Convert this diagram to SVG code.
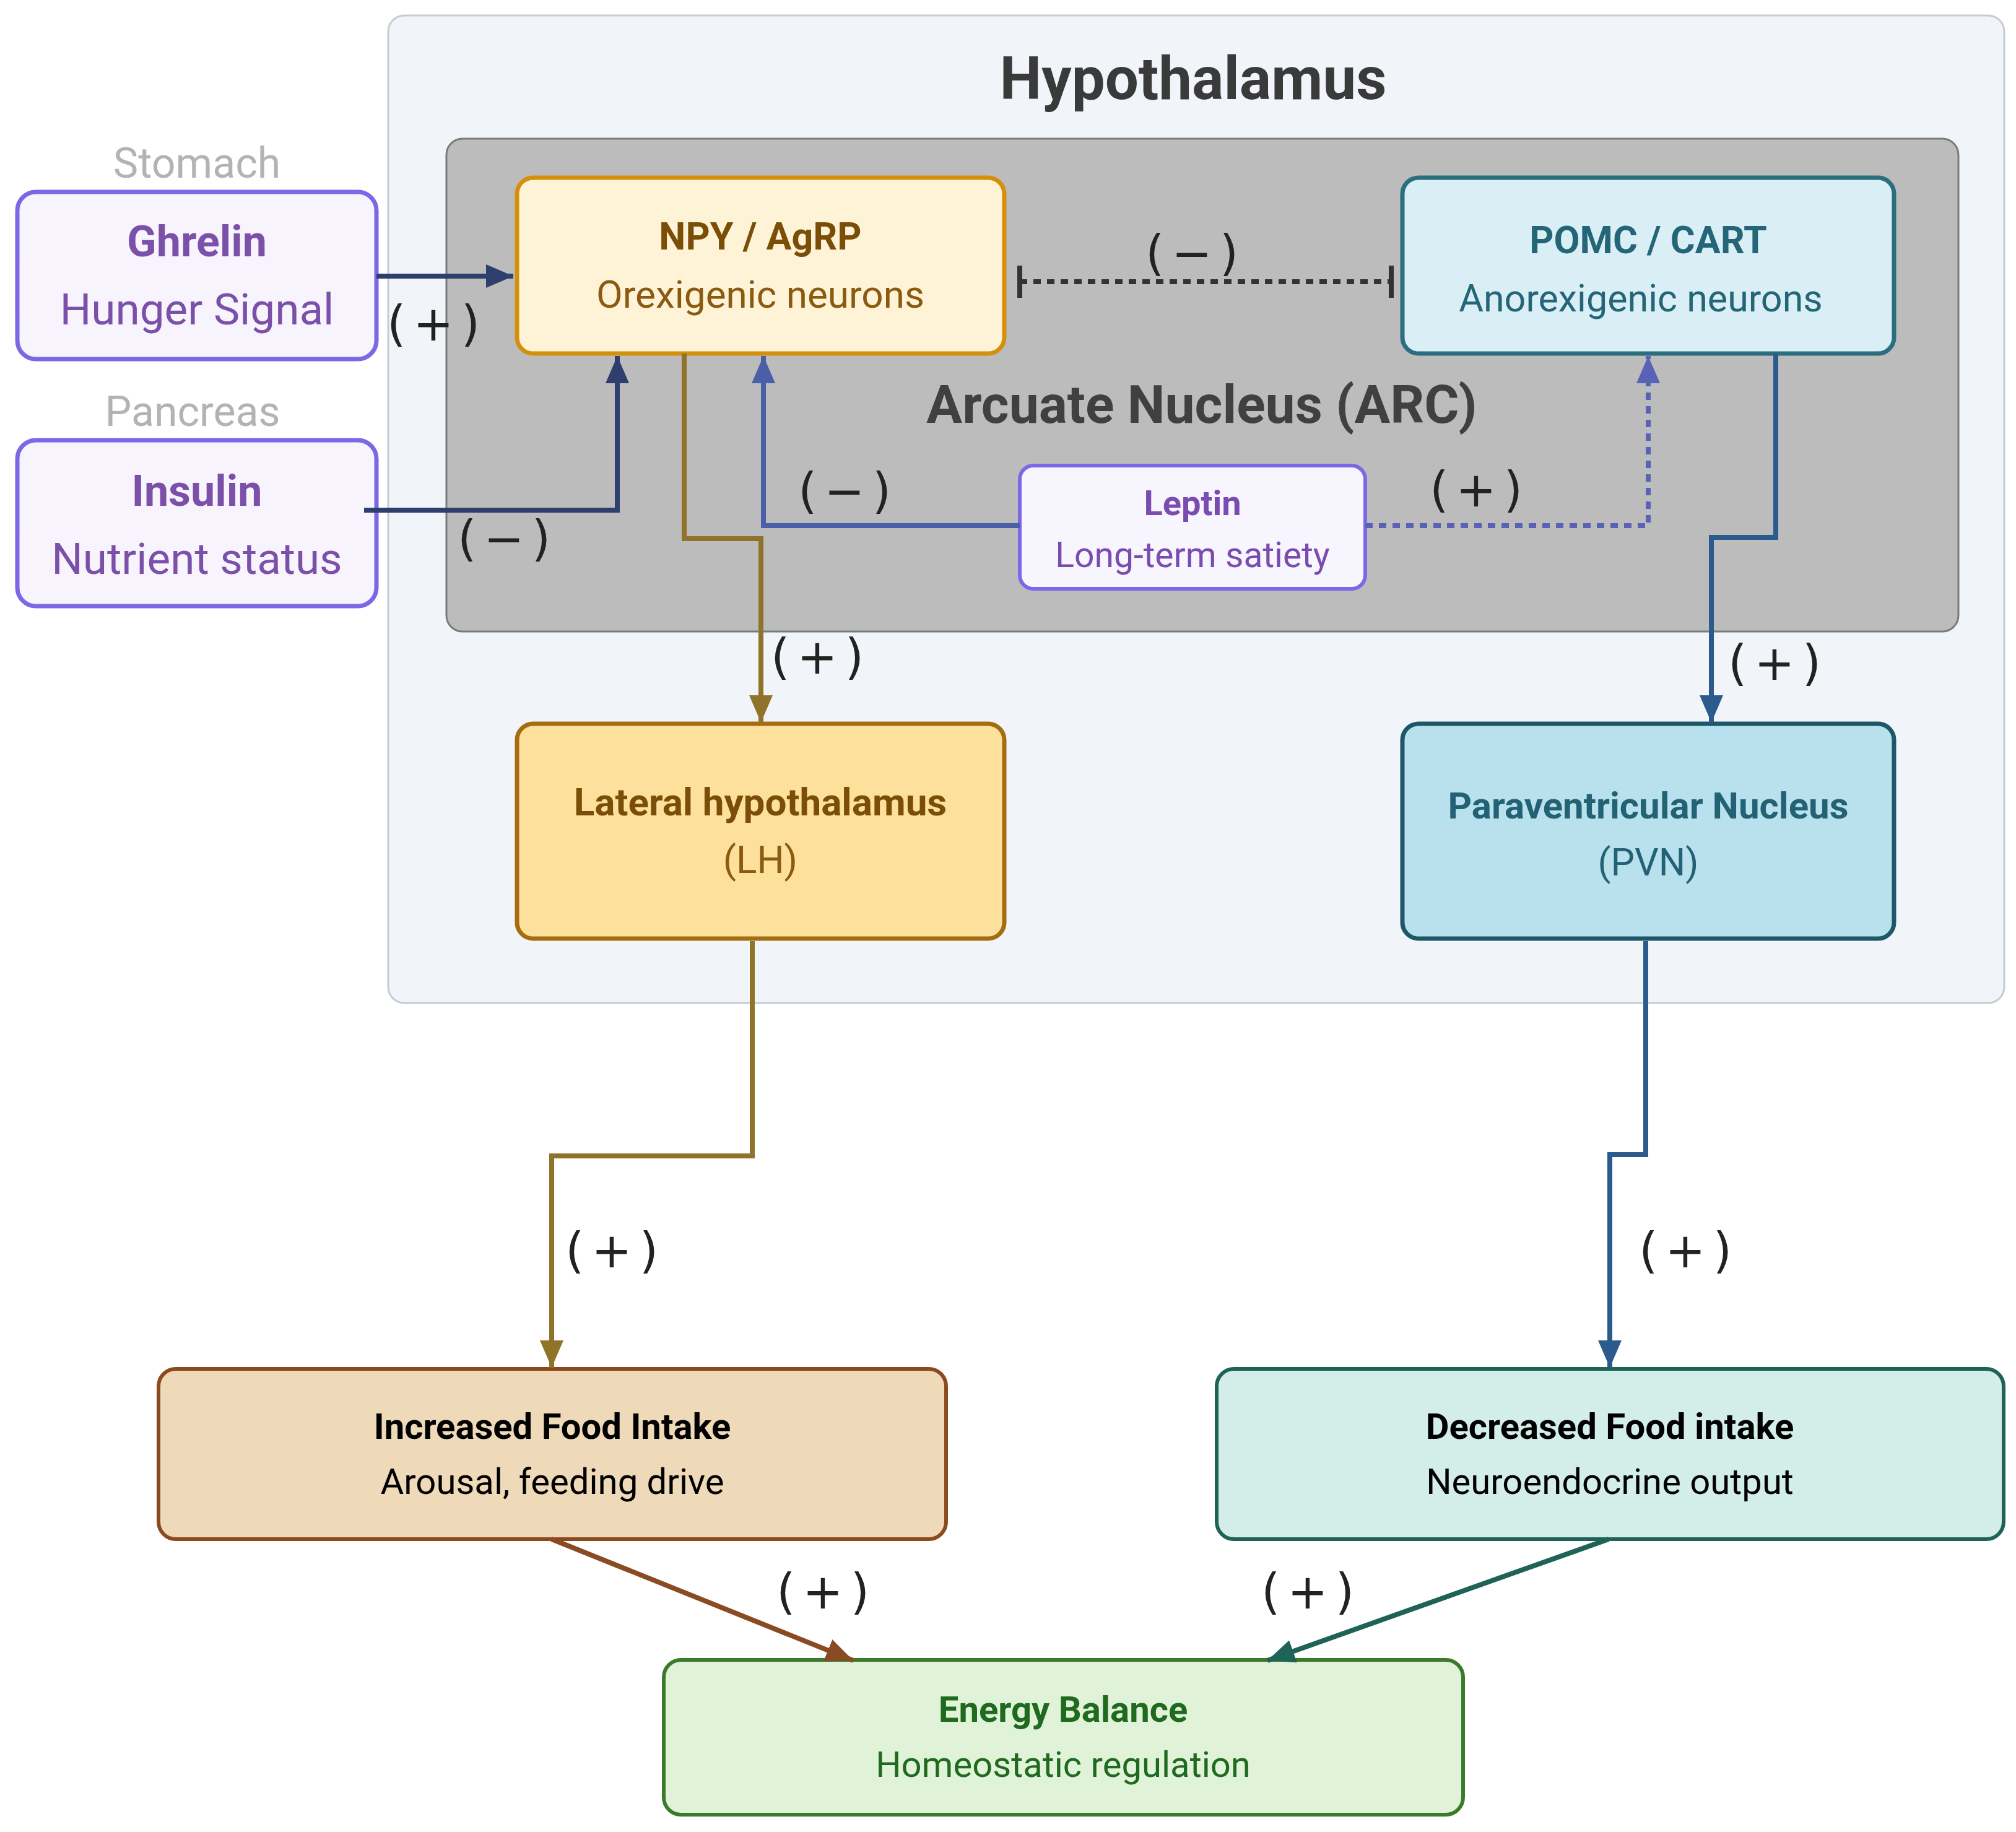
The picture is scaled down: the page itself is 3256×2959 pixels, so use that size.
<svg xmlns="http://www.w3.org/2000/svg" width="3256" height="2959" viewBox="0 0 3256 2959">
<defs>
<style>
text{font-family:Roboto,"Liberation Sans",sans-serif;text-anchor:middle}
.t{font-weight:bold}
.lbl{font-family:"DejaVu Sans","Liberation Sans",sans-serif;font-size:78px;fill:#222;letter-spacing:12px}
.edge{fill:none;stroke-width:8}
</style>
<marker id="aNavy" markerUnits="userSpaceOnUse" markerWidth="46" markerHeight="38" refX="44" refY="19" orient="auto"><path d="M0,0 L44,19 L0,38 Z" fill="#2e3f6e"/></marker>
<marker id="aGold" markerUnits="userSpaceOnUse" markerWidth="46" markerHeight="38" refX="44" refY="19" orient="auto"><path d="M0,0 L44,19 L0,38 Z" fill="#8f7328"/></marker>
<marker id="aLep" markerUnits="userSpaceOnUse" markerWidth="46" markerHeight="38" refX="44" refY="19" orient="auto"><path d="M0,0 L44,19 L0,38 Z" fill="#4b5ea8"/></marker>
<marker id="aLepD" markerUnits="userSpaceOnUse" markerWidth="46" markerHeight="38" refX="44" refY="19" orient="auto"><path d="M0,0 L44,19 L0,38 Z" fill="#5a62b6"/></marker>
<marker id="aBlue" markerUnits="userSpaceOnUse" markerWidth="46" markerHeight="38" refX="44" refY="19" orient="auto"><path d="M0,0 L44,19 L0,38 Z" fill="#2b5b8c"/></marker>
<marker id="aBrown" markerUnits="userSpaceOnUse" markerWidth="46" markerHeight="38" refX="44" refY="19" orient="auto"><path d="M0,0 L44,19 L0,38 Z" fill="#8a4b22"/></marker>
<marker id="aTeal" markerUnits="userSpaceOnUse" markerWidth="46" markerHeight="38" refX="44" refY="19" orient="auto"><path d="M0,0 L44,19 L0,38 Z" fill="#1f6358"/></marker>
<marker id="tee" markerUnits="userSpaceOnUse" markerWidth="10" markerHeight="56" refX="5" refY="28" orient="auto"><rect x="1" y="2" width="8" height="52" fill="#333"/></marker>
</defs>
<rect width="3256" height="2959" fill="#ffffff"/>

<g id="hypothalamus">
<rect x="627" y="25" width="2610" height="1595" rx="26" fill="#f1f5fa" stroke="#c6ccd6" stroke-width="3"/>
<text class="t" x="1927" y="160" font-size="96" fill="#3a3a3a">Hypothalamus</text>
</g>

<g id="arc">
<rect x="721" y="224" width="2442" height="796" rx="26" fill="#bcbcbc" stroke="#7a7a7a" stroke-width="3"/>
<text class="t" x="1941" y="683" font-size="86" fill="#404040">Arcuate Nucleus (ARC)</text>
</g>

<g id="ghrelin">
<text x="318" y="287" font-size="68" fill="#b3b3b3">Stomach</text>
<rect x="28" y="310" width="580" height="270" rx="30" fill="#f7f4fd" stroke="#7c68e6" stroke-width="7"/>
<text class="t" x="318" y="414" font-size="70" fill="#7b50a8">Ghrelin</text>
<text x="318" y="524" font-size="71" fill="#7b50a8">Hunger Signal</text>
</g>

<g id="insulin">
<text x="311" y="688" font-size="68" fill="#b3b3b3">Pancreas</text>
<rect x="28" y="711" width="580" height="268" rx="30" fill="#f7f4fd" stroke="#7c68e6" stroke-width="7"/>
<text class="t" x="318" y="817" font-size="70" fill="#7b50a8">Insulin</text>
<text x="318" y="927" font-size="71" fill="#7b50a8">Nutrient status</text>
</g>

<g id="npy">
<rect x="835" y="287" width="787" height="284" rx="26" fill="#fef3d6" stroke="#d4900c" stroke-width="7"/>
<text class="t" x="1228" y="403" font-size="61" fill="#7a4e06">NPY / AgRP</text>
<text x="1228" y="497" font-size="62" fill="#8a5a10">Orexigenic neurons</text>
</g>

<g id="pomc">
<rect x="2265" y="287" width="794" height="284" rx="26" fill="#d9eff5" stroke="#2a6e80" stroke-width="7"/>
<text class="t" x="2662" y="409" font-size="61" fill="#246677">POMC / CART</text>
<text x="2650" y="503" font-size="61" fill="#246677">Anorexigenic neurons</text>
</g>

<g id="leptin">
<rect x="1647" y="752" width="558" height="199" rx="22" fill="#f7f5fe" stroke="#7c68e6" stroke-width="6"/>
<text class="t" x="1926" y="832" font-size="56" fill="#7a4cb0">Leptin</text>
<text x="1926" y="916" font-size="57" fill="#7a4cb0">Long-term satiety</text>
</g>

<g id="lh">
<rect x="835" y="1169" width="787" height="347" rx="26" fill="#fde09c" stroke="#a46e10" stroke-width="7"/>
<text class="t" x="1228" y="1317" font-size="62" fill="#7a4e06">Lateral hypothalamus</text>
<text x="1228" y="1410" font-size="62" fill="#8a5a10">(LH)</text>
</g>

<g id="pvn">
<rect x="2265" y="1169" width="794" height="347" rx="26" fill="#b8e1ed" stroke="#1e5868" stroke-width="7"/>
<text class="t" x="2662" y="1322" font-size="60" fill="#236275">Paraventricular Nucleus</text>
<text x="2662" y="1414" font-size="61" fill="#236275">(PVN)</text>
</g>

<g id="increased">
<rect x="256" y="2211" width="1272" height="275" rx="28" fill="#eed9b8" stroke="#8b4a1d" stroke-width="6"/>
<text class="t" x="892" y="2324" font-size="58" fill="#000">Increased Food Intake</text>
<text x="892" y="2413" font-size="58" fill="#000">Arousal, feeding drive</text>
</g>

<g id="decreased">
<rect x="1965" y="2211" width="1271" height="275" rx="28" fill="#d3ede8" stroke="#1e6356" stroke-width="6"/>
<text class="t" x="2600" y="2324" font-size="58" fill="#000">Decreased Food intake</text>
<text x="2600" y="2413" font-size="58" fill="#000">Neuroendocrine output</text>
</g>

<g id="energy">
<rect x="1072" y="2681" width="1291" height="250" rx="28" fill="#e0f3d8" stroke="#3b7a2b" stroke-width="6"/>
<text class="t" x="1717" y="2781" font-size="58" fill="#1f6a1f">Energy Balance</text>
<text x="1717" y="2870" font-size="58" fill="#1f6a1f">Homeostatic regulation</text>
</g>

<g id="connectors">
<path class="edge" d="M608,446 L829,446" stroke="#2e3f6e" marker-end="url(#aNavy)"/>
<path class="edge" d="M588,824 L997,824 L997,575" stroke="#2e3f6e" marker-end="url(#aNavy)"/>
<path class="edge" d="M1105,571 L1105,870 L1229,870 L1229,1167" stroke="#8f7328" marker-end="url(#aGold)"/>
<path class="edge" d="M1647,849 L1233,849 L1233,575" stroke="#4b5ea8" marker-end="url(#aLep)"/>
<path class="edge" d="M2205,849 L2662,849 L2662,575" stroke="#5a62b6" stroke-dasharray="12 10" marker-end="url(#aLepD)"/>
<path class="edge" d="M1647,455 L2247,455" stroke="#333" stroke-dasharray="12 10" marker-start="url(#tee)" marker-end="url(#tee)"/>
<path class="edge" d="M2868,571 L2868,868 L2764,868 L2764,1167" stroke="#2b5b8c" marker-end="url(#aBlue)"/>
<path class="edge" d="M1215,1520 L1215,1867 L891,1867 L891,2209" stroke="#8f7328" marker-end="url(#aGold)"/>
<path class="edge" d="M2658,1520 L2658,1865 L2600,1865 L2600,2209" stroke="#2b5b8c" marker-end="url(#aBlue)"/>
<path class="edge" d="M891,2486 L1378,2682" stroke="#8a4b22" marker-end="url(#aBrown)"/>
<path class="edge" d="M2598,2486 L2047,2682" stroke="#1f6358" marker-end="url(#aTeal)"/>
<text class="lbl" x="706" y="550">(+)</text>
<text class="lbl" x="820" y="897">(−)</text>
<text class="lbl" x="1326" y="1088">(+)</text>
<text class="lbl" x="1370" y="820">(−)</text>
<text class="lbl" x="2390" y="818">(+)</text>
<text class="lbl" x="1931" y="436">(−)</text>
<text class="lbl" x="2872" y="1098">(+)</text>
<text class="lbl" x="994" y="2047">(+)</text>
<text class="lbl" x="2728" y="2047">(+)</text>
<text class="lbl" x="1335" y="2598">(+)</text>
<text class="lbl" x="2118" y="2598">(+)</text>
</g>
</svg>
